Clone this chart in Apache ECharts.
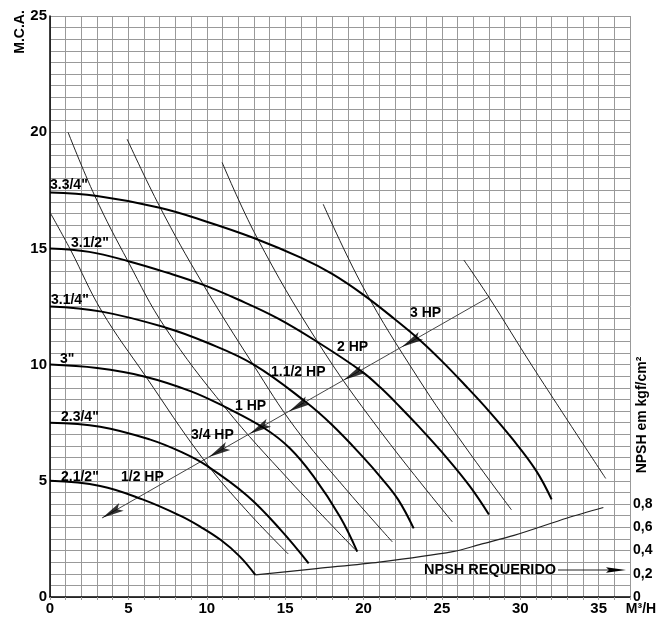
<!DOCTYPE html>
<html><head><meta charset="utf-8">
<script src="https://cdn.jsdelivr.net/npm/echarts@6/dist/echarts.min.js"></script>
<style>html,body{margin:0;padding:0;background:#fff}#c{width:659px;height:623px}</style>
</head><body><div id="c"></div>
<script>
// ---- data ----
const xTicks = [0, 5, 10, 15, 20, 25, 30, 35];
const yTicks = [0, 5, 10, 15, 20, 25];
const npshTicks = [0, 0.2, 0.4, 0.6, 0.8];

const impellerNames = ['2.1/2"', '2.3/4"', '3"', '3.1/4"', '3.1/2"', '3.3/4"'];
const head_2_1_2 = [[0,5.0],[3.2,4.78],[5.9,4.2],[8.3,3.5],[9.6,3.02],[10.9,2.45],[12.1,1.75],[13.1,0.95]];
const head_2_3_4 = [[0,7.5],[3.2,7.33],[6.4,6.77],[8.5,6.2],[10,5.65],[12.6,4.35],[14.7,2.9],[16.5,1.45]];
const head_3 = [[0,10.0],[3,9.85],[6.07,9.48],[9,8.85],[11.1,8.2],[13.7,7.25],[15.3,6.4],[16.8,5.2],[18.5,3.45],[19.6,1.95]];
const head_3_1_4 = [[0,12.5],[3.3,12.28],[7.35,11.6],[10,10.95],[13,10.0],[16.3,8.4],[18,7.4],[20,6.0],[21.1,5.15],[22.2,4.2],[23.2,2.95]];
const head_3_1_2 = [[0,15.0],[2.5,14.85],[5,14.45],[7.5,13.95],[9.7,13.45],[12,12.8],[14.5,12.0],[17,11.0],[19.9,9.7],[21.1,9.0],[22.3,8.2],[23.5,7.35],[25.3,6.0],[26.8,4.75],[28,3.55]];
const head_3_3_4 = [[0,17.4],[3,17.25],[7,16.75],[10,16.15],[13,15.45],[16,14.6],[18,13.9],[20,13.0],[22,11.95],[23.6,11.05],[25,10.15],[26.5,9.1],[28,8.0],[29.5,6.8],[31,5.45],[32,4.2]];

const iso_1 = [[0,16.55],[1.3,14.95],[3.3,12.3],[6.1,9.5],[9.7,6.0],[12.5,3.75],[15.2,1.85]];
const iso_2 = [[1.15,20.0],[2.87,17.24],[4.98,14.44],[7.34,11.6],[11.17,8.15],[15.3,5.0],[19.48,2.03]];
const iso_3 = [[4.92,19.7],[7.02,16.77],[9.7,13.53],[12.96,10.0],[15.64,7.28],[18.8,4.7],[21.84,2.37]];
const iso_4 = [[10.98,18.7],[13.2,15.47],[17.05,11.0],[21,7.2],[25.67,3.23]];
const iso_5 = [[17.43,16.9],[20,13.3],[23.5,9.4],[26.5,6.45],[29.44,3.75]];
const iso_6 = [[26.4,14.5],[28,12.9],[30.8,9.9],[35.45,5.1]];

const powerNames = ['1/2 HP', '3/4 HP', '1 HP', '1.1/2 HP', '2 HP', '3 HP'];
const powerArrowX = [3.95, 10.75, 13.35, 15.85, 19.35, 23.05];
const powerLine = [[3.32, 3.4], [27.97, 12.89]];

const npshFlow = [13.1, 17, 21, 25.7, 27.5, 29.6, 33, 35.3];
const npshValue = [0.19, 0.245, 0.30, 0.39, 0.455, 0.53, 0.68, 0.77];

// ---- build ----
const FONT = 'Liberation Sans, Arial, sans-serif';
const heads = [head_2_1_2, head_2_3_4, head_3, head_3_1_4, head_3_1_2, head_3_3_4];
const isos = [iso_1, iso_2, iso_3, iso_4, iso_5, iso_6];
function onPowerLine(x) {
  const [a, b] = powerLine;
  return [x, a[1] + (x - a[0]) * (b[1] - a[1]) / (b[0] - a[0])];
}
const series = [];
heads.forEach((d, i) => series.push({
  name: impellerNames[i], type: 'line', data: d, smooth: 0.4, symbol: 'none', silent: true,
  lineStyle: { color: '#000', width: 2 }, z: 4
}));
isos.forEach((d) => series.push({
  type: 'line', data: d, smooth: 0.4, symbol: 'none', silent: true,
  lineStyle: { color: '#222', width: 1 }, z: 3
}));
series.push({ type: 'line', data: powerLine, symbol: 'none', silent: true,
  lineStyle: { color: '#444', width: 1 }, z: 3 });
series.push({ type: 'scatter', data: powerArrowX.map(onPowerLine), silent: true,
  symbol: 'path://M0,0L5,24L0,19L-5,24Z', symbolSize: [9, 22], symbolRotate: 120,
  itemStyle: { color: '#000' }, z: 5 });
series.push({ type: 'line', yAxisIndex: 1, data: npshFlow.map((x, i) => [x, npshValue[i]]),
  smooth: 0.3, symbol: 'none', silent: true, lineStyle: { color: '#222', width: 1.2 }, z: 3 });

function txt(x, y, text, size, extra) {
  return Object.assign({ type: 'text', x: x, y: y, z: 10,
    style: { text: text, font: 'bold ' + (size || 14) + 'px ' + FONT, fill: '#000',
      textAlign: 'left', textVerticalAlign: 'middle' } }, extra || {});
}
const graphics = [
  txt(50, 185, impellerNames[5]),
  txt(71, 243, impellerNames[4]),
  txt(51, 300, impellerNames[3]),
  txt(60, 359, impellerNames[2]),
  txt(61, 417, impellerNames[1]),
  txt(61, 477, impellerNames[0]),
  txt(121, 477, powerNames[0]),
  txt(191, 435, powerNames[1]),
  txt(235, 406, powerNames[2]),
  txt(271, 372, powerNames[3]),
  txt(337, 347, powerNames[4]),
  txt(410, 313, powerNames[5]),
  txt(424, 570, 'NPSH REQUERIDO', 14.5),
  { type: 'line', shape: { x1: 558, y1: 570, x2: 610, y2: 570 }, style: { stroke: '#222', lineWidth: 1 }, z: 10 },
  { type: 'polygon', shape: { points: [[606, 567.3], [626, 570], [606, 572.7], [609, 570]] }, style: { fill: '#000' }, z: 10 },
  { type: 'text', x: 20, y: 32, rotation: Math.PI / 2, z: 10,
    style: { text: 'M.C.A.', font: 'bold 14px ' + FONT, fill: '#000', textAlign: 'center', textVerticalAlign: 'middle' } },
  { type: 'text', x: 642, y: 415, rotation: Math.PI / 2, z: 10,
    style: { text: 'NPSH em kgf/cm²', font: 'bold 14px ' + FONT, fill: '#000', textAlign: 'center', textVerticalAlign: 'middle' } },
  { type: 'text', x: 641, y: 609, z: 10,
    style: { text: 'M³/H', font: 'bold 14px ' + FONT, fill: '#000', textAlign: 'center', textVerticalAlign: 'middle' } }
];

const chart = echarts.init(document.getElementById('c'), null, { renderer: 'canvas' });
chart.setOption({
  animation: false,
  backgroundColor: '#fff',
  grid: { left: 50, right: 29, top: 16, bottom: 26, containLabel: false },
  xAxis: {
    type: 'value', min: 0, max: 37, interval: 1,
    axisLine: { lineStyle: { color: '#000', width: 1.5 } },
    axisTick: { show: true, length: 3, lineStyle: { color: '#999' } },
    splitLine: { show: true, lineStyle: { color: '#999', width: 1 } },
    axisLabel: { color: '#000', fontWeight: 'bold', fontSize: 15, fontFamily: FONT, margin: 4,
      formatter: v => xTicks.indexOf(Math.round(v)) >= 0 && Math.abs(v - Math.round(v)) < 1e-6 ? String(Math.round(v)) : '' }
  },
  yAxis: [{
    type: 'value', min: 0, max: 25, interval: 0.5,
    axisLine: { show: true, lineStyle: { color: '#000', width: 1.5 } },
    axisTick: { show: false },
    splitLine: { show: true, lineStyle: { color: '#999', width: 1 } },
    axisLabel: { color: '#000', fontWeight: 'bold', fontSize: 15, fontFamily: FONT, margin: 3,
      formatter: v => (Math.abs(v - Math.round(v)) < 1e-6 && yTicks.indexOf(Math.round(v)) >= 0) ? String(Math.round(v)) : '' }
  }, {
    type: 'value', position: 'right', min: 0, max: 5, interval: 0.2,
    axisLine: { show: false }, axisTick: { show: false }, splitLine: { show: false },
    axisLabel: { color: '#000', fontWeight: 'bold', fontSize: 14, fontFamily: FONT, margin: 3,
      formatter: v => {
        const t = npshTicks.find(t => Math.abs(t - v) < 1e-6);
        if (t === undefined) return '';
        return t === 0 ? '0' : t.toFixed(1).replace('.', ',');
      } }
  }],
  series: series,
  graphic: graphics
});
</script>
</body></html>
